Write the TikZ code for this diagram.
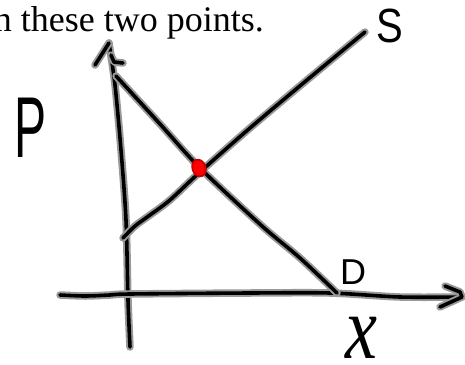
\documentclass[tikz,border=0pt]{standalone}
\usepackage{fontspec}
\setmainfont{Liberation Serif}
\newfontfamily\handfont{Liberation Sans}
\tikzset{
  pen/.style={preaction={draw,line width=7.5pt,black!40,line cap=round,line join=round},
              draw=black,line width=3.6pt,line cap=round,line join=round},
  letter/.style={inner sep=0pt,outer sep=0pt,text=black}
}
\begin{document}
\begin{tikzpicture}[x=1pt,y=-1pt]
\useasboundingbox (0,0) rectangle (465,364);
% caption text
\node[anchor=base east,inner sep=0pt,font=\fontsize{36}{40}\selectfont] (cap) at (264,31) {n these two points.};
% y axis
\draw[pen] plot[smooth] coordinates {(130,347) (128,300) (126,220) (121,150) (115,85) (109,43)};
\draw[pen] (95,65) -- (109,43);
\draw[pen] (111,55) -- (114,62) -- (123,63);
% x axis
\draw[pen] plot[smooth] coordinates {(60,295) (85,296) (110,295) (130,294) (250,293) (330,293) (400,297) (462,297)};
\draw[pen] (445,286) -- (460,292) -- (462,297) -- (440,307);
% line D
\draw[pen] plot[smooth] coordinates {(116,76) (160,124) (200,168) (262,226) (300,258) (337,293)};
% line S
\draw[pen] plot[smooth] coordinates {(123,238) (135,226) (150,215) (170,200) (200,172) (250,128) (307,80) (365,32)};
% intersection dot
\fill[red!80!black] (199,168) ellipse[x radius=7.5pt,y radius=9.5pt,rotate=20];
\fill[red] (199,168) ellipse[x radius=5.5pt,y radius=7.5pt,rotate=20];
% labels
\node[letter] (P) at (31,128) {\scalebox{1}[1.8]{\handfont\fontsize{48}{48}\selectfont P}};
\node[letter] (S) at (390,26) {\scalebox{1}[1.2]{\handfont\fontsize{40}{40}\selectfont S}};
\node[letter] (D) at (353,272) {\handfont\fontsize{36}{36}\selectfont D};
\node[letter] (X) at (361,338) {\scalebox{1}[1.25]{\fontsize{72}{72}\selectfont\itshape x}};
\end{tikzpicture}
\end{document}
